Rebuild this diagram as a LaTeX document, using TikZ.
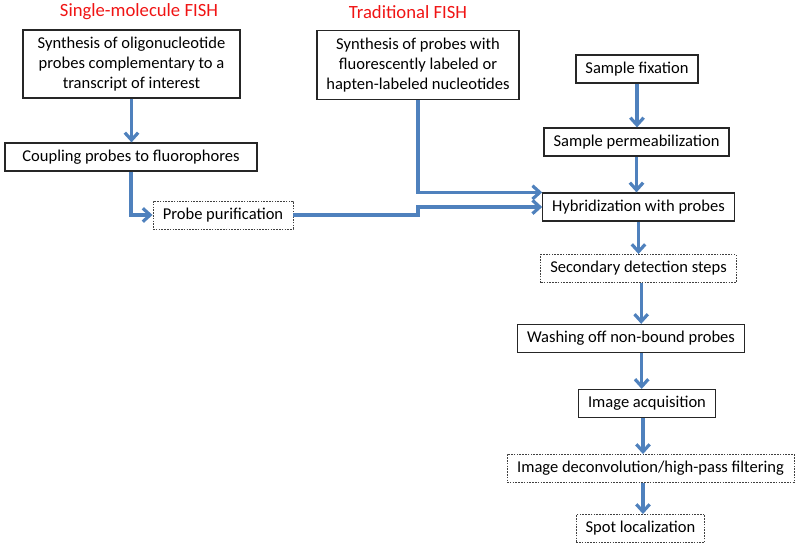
\documentclass[tikz,border=0pt]{standalone}
\usepackage{fontspec}
\setmainfont{Carlito}
\usetikzlibrary{calc}
\usetikzlibrary{positioning}
\usetikzlibrary{arrows.meta}

\definecolor{flowblue}{RGB}{79,129,189}
\definecolor{titlered}{RGB}{240,20,20}

\begin{document}
\begin{tikzpicture}[%
  >={Straight Barb[length=5.5pt,width=10pt]},
  x=0.75pt, y=-0.75pt,
  stepbox/.style={draw=black!85, line width=0.9pt, fill=white,
    font=\fontsize{12.4}{14.8}\selectfont, align=center,
    inner xsep=7pt, inner ysep=3pt, minimum height=21pt},
  optbox/.style={stepbox, draw=black!75, line width=0.7pt,
    dash pattern=on 1.2pt off 0.9pt},
  heading/.style={text=titlered, font=\fontsize{14}{17}\selectfont},
  flow/.style={->, draw=flowblue, line width=2.4pt},
]

  \useasboundingbox (0,0) rectangle (800,549);

  % the two probe routes
  \node[heading] (smtitle) at (139,12) {Single-molecule FISH};
  \node[heading] (tradtitle) at (408,12) {Traditional FISH};

  \node[stepbox, minimum width=162.75pt, minimum height=51pt] (smsynth) at (131.5,64)
    {Synthesis of oligonucleotide\\probes complementary to a\\transcript of interest};
  \node[stepbox, minimum width=189pt] (coupling) at (131,157) {Coupling probes to fluorophores};
  \node[optbox, minimum width=105pt] (purif) at (223,215) {Probe purification};

  \node[stepbox, minimum width=150pt, minimum height=52pt] (tradsynth) at (418,65)
    {Synthesis of probes with\\fluorescently labeled or\\hapten-labeled nucleotides};

  % sample side
  \node[stepbox, minimum width=91.5pt] (fixation) at (637,69) {Sample fixation};
  \node[stepbox, minimum width=138.75pt] (permeab) at (636.5,142) {Sample permeabilization};
  \node[stepbox, minimum width=143.25pt] (hybrid) at (638.5,207) {Hybridization with probes};
  \node[optbox, minimum width=146.25pt] (secondary) at (638.5,268.5) {Secondary detection steps};
  \node[stepbox, minimum width=163.5pt] (washing) at (631,338.5) {Washing off non-bound probes};
  \node[stepbox, minimum width=102pt] (acquis) at (647,403.5) {Image acquisition};
  \node[optbox, minimum width=215.25pt] (deconv) at (650.5,468.5) {Image deconvolution/high-pass filtering};
  \node[optbox, minimum width=95.25pt] (spotloc) at (640.5,528.5) {Spot localization};

  \draw[flow] (smsynth.south) -- (smsynth.south |- coupling.north);
  \draw[flow] (coupling.south) |- (purif.west);
  \draw[flow] (tradsynth.south) |- (hybrid.north west);
  \draw[flow] (purif.east) -- (purif.east -| tradsynth.south) |- (hybrid.west);

  \draw[flow] (fixation.south) -- (fixation.south |- permeab.north);
  \draw[flow] (permeab.south) -- (permeab.south |- hybrid.north);
  \draw[flow] (hybrid.south) -- (hybrid.south |- secondary.north);
  \draw[flow] ([xshift=2pt]secondary.south) -- ([xshift=2pt]secondary.south |- washing.north);
  \draw[flow] ([xshift=-4pt]acquis.north |- washing.south) -- ([xshift=-4pt]acquis.north);
  \draw[flow] ([xshift=-3pt]acquis.south) -- ([xshift=-3pt]acquis.south |- deconv.north);
  \draw[flow] ([xshift=-3pt]acquis.south |- deconv.south) -- ([xshift=-3pt]acquis.south |- spotloc.north);

\end{tikzpicture}
\end{document}
